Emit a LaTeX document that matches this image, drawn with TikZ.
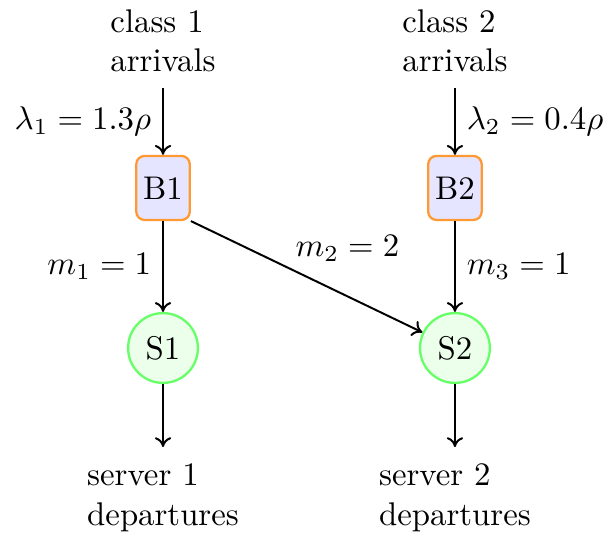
\documentclass[tikz,border=0pt]{standalone}
\usetikzlibrary{arrows.meta}
\begin{document}
\begin{tikzpicture}[x=1pt,y=1pt,
  bufbox/.style={draw=orange!80, fill=blue!10, rounded corners=2.5pt, line width=0.7pt, minimum width=16.3pt, minimum height=19.5pt, inner sep=1pt},
  srv/.style={circle, draw=green!60, fill=green!8, line width=0.7pt, minimum size=21.3pt, inner sep=0pt},
  txt/.style={align=left, inner sep=0pt},
  conn/.style={-{To[length=3pt,width=5pt]}, line width=0.6pt}]
\useasboundingbox (0,0) rectangle (184.45,164);
\node[txt] (a1) at (49.7,151.5) {class 1\\arrivals};
\node[txt] (a2) at (138.7,151.5) {class 2\\arrivals};
\coordinate (a1e) at (49.7,137.2);
\coordinate (a2e) at (138.7,137.2);
\node[bufbox] (B1) at (49.7,106.7) {B1};
\node[bufbox] (B2) at (138.7,106.7) {B2};
\node[srv] (S1) at (49.7,57.9) {S1};
\node[srv] (S2) at (138.7,57.9) {S2};
\coordinate (d1e) at (49.7,27.7);
\coordinate (d2e) at (138.7,27.7);
\node[txt] (d1) at (49.7,12.2) {server 1\\departures};
\node[txt] (d2) at (138.7,12.2) {server 2\\departures};
\draw[conn] (a1e) -- node[midway,left] {$\lambda_1 = 1.3\rho$} (B1);
\draw[conn] (a2e) -- node[midway,right] {$\lambda_2 = 0.4\rho$} (B2);
\draw[conn] (B1) -- node[midway,left] {$m_1 = 1$} (S1);
\draw[conn] (B2) -- node[midway,right] {$m_3 = 1$} (S2);
\draw[conn] (B1.south east) -- node[midway,anchor=south west,xshift=-7pt,yshift=1pt] {$m_2 = 2$} (S2);
\draw[conn] (S1) -- (d1e);
\draw[conn] (S2) -- (d2e);
\end{tikzpicture}
\end{document}
